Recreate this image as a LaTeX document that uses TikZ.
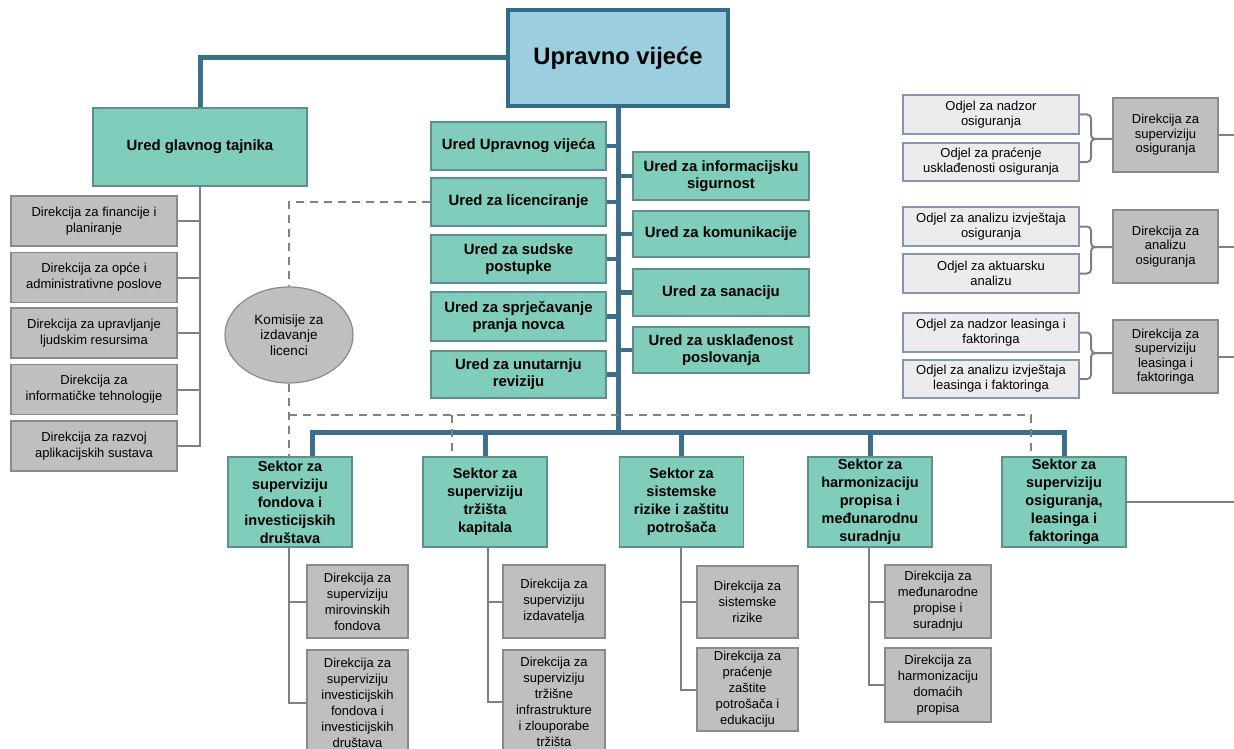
\documentclass[tikz,border=0pt]{standalone}
\usepackage{fontspec}
\setmainfont{Liberation Sans}
\usetikzlibrary{shapes.geometric}
\definecolor{uredfill}{HTML}{80CDBB}
\definecolor{uredline}{HTML}{5E8E90}
\definecolor{uvfill}{HTML}{9BCEDF}
\definecolor{uvline}{HTML}{336C88}
\definecolor{thickc}{HTML}{3B6F8A}
\definecolor{dirfill}{HTML}{BFBFBF}
\definecolor{dirline}{HTML}{8A8A8A}
\definecolor{odjfill}{HTML}{ECECEE}
\definecolor{odjline}{HTML}{8696AE}
\definecolor{connc}{HTML}{808080}
\begin{document}
\begin{tikzpicture}[x=1pt,y=-1pt,
  basebox/.style={align=center, inner sep=0pt, text=black},
  uredbox/.style={basebox, draw=uredline, line width=1.2pt, fill=uredfill, font=\bfseries\fontsize{14.9}{17}\selectfont},
  sektbox/.style={basebox, draw=uredline, line width=1.2pt, fill=uredfill, font=\bfseries\fontsize{14.5}{18}\selectfont},
  dirbox/.style={basebox, draw=dirline, line width=1.2pt, fill=dirfill, font=\fontsize{13}{16}\selectfont},
  rdirbox/.style={dirbox, font=\fontsize{13}{14.5}\selectfont},
  odjbox/.style={basebox, draw=odjline, line width=1.2pt, fill=odjfill, font=\fontsize{13}{15}\selectfont},
  thickline/.style={draw=thickc, line width=5pt},
  stubline/.style={draw=thickc, line width=4.5pt},
  grayline/.style={draw=connc, line width=2pt},
  dashline/.style={draw=connc, line width=2pt, dash pattern=on 8pt off 6pt}
]
\useasboundingbox (0,0) rectangle (1234,749);
\fill[white] (0,0) rectangle (1234,749);
\clip (0,0) rectangle (1234,749);

% top
\node[basebox, draw=uvline, line width=3.5pt, fill=uvfill, font=\bfseries\fontsize{23.8}{27}\selectfont,
  minimum width=220, minimum height=96] (uv) at (618,58) {Upravno vijeće};
\node[uredbox, minimum width=214, minimum height=78] (ugt) at (200,147) {Ured glavnog tajnika};

% left directorates
\node[dirbox, minimum width=166, minimum height=50] (g1) at (94,221) {Direkcija za financije i\\planiranje};
\node[dirbox, minimum width=166, minimum height=50] (g2) at (94,277.5) {Direkcija za opće i\\administrativne poslove};
\node[dirbox, minimum width=166, minimum height=50] (g3) at (94,333) {Direkcija za upravljanje\\ljudskim resursima};
\node[dirbox, minimum width=166, minimum height=50] (g4) at (94,389.5) {Direkcija za\\informatičke tehnologije};
\node[dirbox, minimum width=166, minimum height=50] (g5) at (94,446) {Direkcija za razvoj\\aplikacijskih sustava};

% ellipse
\node[ellipse, draw=dirline, line width=1.2pt, fill=dirfill, align=center, inner sep=0pt, text=black,
  font=\fontsize{13.5}{15.5}\selectfont, minimum width=128, minimum height=96] (kom) at (289,335) {Komisije za\\izdavanje\\licenci};

% ured left column
\node[uredbox, minimum width=175, minimum height=48] (uuv) at (518.5,146) {Ured Upravnog vijeća};
\node[uredbox, minimum width=175, minimum height=48] (ulic) at (518.5,202) {Ured za licenciranje};
\node[uredbox, minimum width=175, minimum height=48] (uss) at (518.5,259) {Ured za sudske\\postupke};
\node[uredbox, minimum width=175, minimum height=49] (usp) at (518.5,316.5) {Ured za sprječavanje\\pranja novca};
\node[uredbox, minimum width=175, minimum height=47] (uur) at (518.5,374.5) {Ured za unutarnju\\reviziju};
% ured right column
\node[uredbox, minimum width=176, minimum height=48] (uis) at (721,176) {Ured za informacijsku\\sigurnost};
\node[uredbox, minimum width=176, minimum height=46] (ukom) at (721,234) {Ured za komunikacije};
\node[uredbox, minimum width=176, minimum height=47] (usan) at (721,292.5) {Ured za sanaciju};
\node[uredbox, minimum width=176, minimum height=46] (uusk) at (721,350) {Ured za usklađenost\\poslovanja};

% right side
\node[odjbox, minimum width=176, minimum height=39] (a1) at (991,114.5) {Odjel za nadzor\\osiguranja};
\node[odjbox, minimum width=176, minimum height=38] (a2) at (991,162) {Odjel za praćenje\\usklađenosti osiguranja};
\node[odjbox, minimum width=176, minimum height=39] (a3) at (991,226.5) {Odjel za analizu izvještaja\\osiguranja};
\node[odjbox, minimum width=176, minimum height=39] (a4) at (991,273.5) {Odjel za aktuarsku\\analizu};
\node[odjbox, minimum width=176, minimum height=39] (a5) at (991,332.5) {Odjel za nadzor leasinga i\\faktoringa};
\node[odjbox, minimum width=176, minimum height=38] (a6) at (991,379) {Odjel za analizu izvještaja\\leasinga i faktoringa};
\node[rdirbox, minimum width=105, minimum height=74] (d1) at (1165.5,135) {Direkcija za\\superviziju\\osiguranja};
\node[rdirbox, minimum width=105, minimum height=73] (d2) at (1165.5,246.5) {Direkcija za\\analizu\\osiguranja};
\node[rdirbox, minimum width=105, minimum height=73] (d3) at (1165.5,356.5) {Direkcija za\\superviziju\\leasinga i\\faktoringa};

% sektori
\node[sektbox, minimum width=124, minimum height=90] (s1) at (290,502) {Sektor za\\superviziju\\fondova i\\investicijskih\\društava};
\node[sektbox, minimum width=124, minimum height=90] (s2) at (485,502) {Sektor za\\superviziju\\tržišta\\kapitala};
\node[sektbox, minimum width=124, minimum height=90] (s3) at (681.5,502) {Sektor za\\sistemske\\rizike i zaštitu\\potrošača};
\node[sektbox, minimum width=124, minimum height=90] (s4) at (870,502) {Sektor za\\harmonizaciju\\propisa i\\međunarodnu\\suradnju};
\node[sektbox, minimum width=124, minimum height=90] (s5) at (1064,502) {Sektor za\\superviziju\\osiguranja,\\leasinga i\\faktoringa};

% bottom directorates
\node[dirbox, minimum width=101, minimum height=73] (c1) at (357.5,601.5) {Direkcija za\\superviziju\\mirovinskih\\fondova};
\node[dirbox, minimum width=101, minimum height=106] (c2) at (357.5,703) {Direkcija za\\superviziju\\investicijskih\\fondova i\\investicijskih\\društava};
\node[dirbox, minimum width=102, minimum height=73] (c3) at (554,601.5) {Direkcija za\\superviziju\\izdavatelja};
\node[dirbox, minimum width=102, minimum height=104] (c4) at (554,702) {Direkcija za\\superviziju\\tržišne\\infrastrukture\\i zlouporabe\\tržišta};
\node[dirbox, minimum width=101, minimum height=72] (c5) at (747.5,602) {Direkcija za\\sistemske\\rizike};
\node[dirbox, minimum width=101, minimum height=83] (c6) at (747.5,689.5) {Direkcija za\\praćenje\\zaštite\\potrošača i\\edukaciju};
\node[dirbox, minimum width=106, minimum height=73] (c7) at (938,601.5) {Direkcija za\\međunarodne\\propise i\\suradnju};
\node[dirbox, minimum width=106, minimum height=74] (c8) at (938,685) {Direkcija za\\harmonizaciju\\domaćih\\propisa};

% helper coordinates
\coordinate (mainbot) at (618,432);
\coordinate (h1) at (312,432);
\coordinate (h5) at (1064,432);
\coordinate (dh1) at (289,415);
\coordinate (dh2) at (1031,415);
\coordinate (dv2) at (452,415);
\coordinate (edge) at (1240,0);
\coordinate (b1) at (289,0);
\coordinate (b2) at (488,0);
\coordinate (b3) at (681,0);
\coordinate (b4) at (869,0);
\coordinate (br) at (1091,0);

% thick connectors
\draw[thickline] (uv.west) -| (ugt.north);
\draw[thickline] (uv.south) -- (mainbot);
\draw[thickline] (h1 |- s1.north) -- (h1) -- (h5) -- (h5 |- s5.north);
\foreach \n in {s2,s3,s4} \draw[thickline] (\n.north) -- (\n.north |- h1);
\foreach \n in {uuv,ulic,uss,usp,uur} \draw[stubline] (\n.east) -- (\n.east -| mainbot);
\foreach \n in {uis,ukom,usan,uusk} \draw[stubline] (\n.west) -- (\n.west -| mainbot);

% gray connectors left
\draw[grayline] (ugt.south) -- (ugt.south |- g5.east) -- (g5.east);
\foreach \n in {g1,g2,g3,g4} \draw[grayline] (\n.east) -- (\n.east -| ugt.south);

% dashed connectors
\draw[dashline] (ulic.west) -- (ulic.west -| kom.north) -- (kom.north);
\draw[dashline] (kom.south) -- (kom.south |- s1.north);
\draw[dashline] (dh1) -- (dh2) -- (dh2 |- s5.north);
\draw[dashline] (dv2) -- (dv2 |- s2.north);

% bottom connectors
\draw[grayline] (b1 |- s1.south) -- (b1 |- c2.west) -- (c2.west);
\draw[grayline] (c1.west) -- (c1.west -| b1);
\draw[grayline] (b2 |- s2.south) -- (b2 |- c4.west) -- (c4.west);
\draw[grayline] (c3.west) -- (c3.west -| b2);
\draw[grayline] (b3 |- s3.south) -- (b3 |- c6.west) -- (c6.west);
\draw[grayline] (c5.west) -- (c5.west -| b3);
\draw[grayline] (b4 |- s4.south) -- (b4 |- c8.west) -- (c8.west);
\draw[grayline] (c7.west) -- (c7.west -| b4);

% braces on right
\foreach \ta/\tb/\dd/\ym in {a1/a2/d1/139, a3/a4/d2/247, a5/a6/d3/353} {
  \draw[grayline, rounded corners=4pt] (\ta.east) -| (br |- 0,\ym) -- (\dd.west |- 0,\ym);
  \draw[grayline, rounded corners=4pt] (\tb.east) -| (br |- 0,\ym) -- ++(6,0);
}
% lines to right edge
\foreach \n in {d1,d2,d3,s5} \draw[grayline] (\n.east) -- (\n.east -| edge);
\end{tikzpicture}
\end{document}
